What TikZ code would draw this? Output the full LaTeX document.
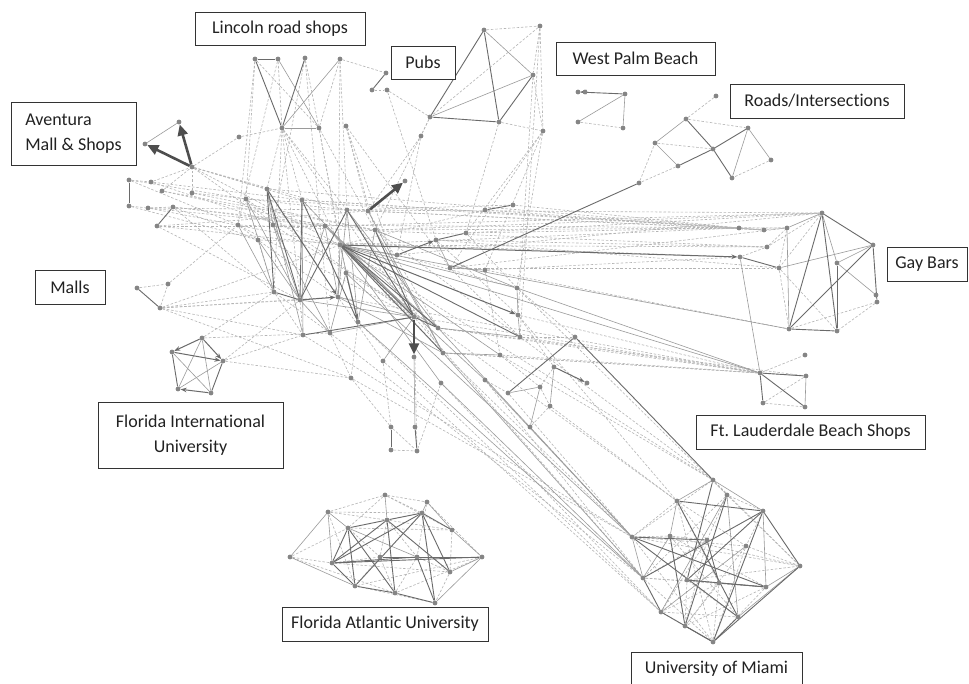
\documentclass[tikz,border=0pt]{standalone}
\usepackage{fontspec}
\setmainfont{Carlito}[Ligatures=CommonOff]
\usetikzlibrary{arrows.meta}
\pgfdeclarelayer{back}
\pgfdeclarelayer{bg}
\pgfsetlayers{back,bg,main}
\definecolor{dotc}{HTML}{858585}
\definecolor{edk}{HTML}{6A6A6A}
\definecolor{emd}{HTML}{9A9A9A}
\definecolor{eds}{HTML}{B4B4B4}
\definecolor{thk}{HTML}{4E4E4E}
\definecolor{txt}{HTML}{222222}
\tikzset{
  dot/.style={circle,fill=dotc,inner sep=0pt,minimum size=4.8pt},
  sD/.style={draw=edk,line width=0.9pt},
  sM/.style={draw=emd,line width=0.6pt},
  dsh/.style={draw=eds,line width=0.6pt,dash pattern=on 2.5pt off 1.8pt},
  tA/.style={draw=thk,line width=2.6pt,-{Triangle[length=11pt,width=10pt]}},
  mA/.style={draw=edk,line width=1pt,-{Stealth[length=6pt,width=4.5pt]}},
  lbl/.style={draw=black!80,line width=0.8pt,fill=white,rectangle,inner sep=0pt,text=txt,font=\fontsize{18}{25}\selectfont}
}
\begin{document}
\begin{tikzpicture}[x=1pt,y=-1pt]
\useasboundingbox (0,0) rectangle (969,684);
\begin{pgfonlayer}{back}
\fill[white] (0,0) rectangle (969,684);
\end{pgfonlayer}
% ---------------- nodes ----------------
\foreach \n/\x/\y in {
 l1/255/59, l2/278/59, l3/305/58, l4/340/59, l5/282/128, l6/319/128, l7/346/126,
 q1/386/73, q2/372/90, q3/387/90,
 p4/430/117, p5/421/136, p6/484/30, p7/533/75, p8/499/122, p9/543/131, p10/540/26,
 w1/578/92, w2/585/92, w3/625/94, w4/578/122, w5/623/128,
 r1/716/96, r2/686/119, r3/748/128, r4/655/143, r5/713/149, r6/678/166, r7/771/160, r8/732/178, r9/639/183,
 g1/822/213, g2/873/245, g3/739/228, g4/764/230, g5/787/228, g6/767/247, g7/740/257, g8/779/268, g9/837/263, g10/876/295, g11/877/302, g12/789/329, g13/837/331,
 f1/760/373, f2/806/376, f3/763/403, f4/805/407, f5/805/355,
 u1/713/480, u2/727/495, u3/677/501, u4/763/511, u5/632/537, u6/670/536, u7/707/540, u8/746/546, u9/800/566, u10/643/578, u11/687/580, u12/719/583, u13/766/587, u14/661/612, u15/738/617, u16/685/626, u17/713/642,
 a1/385/495, a2/427/502, a3/328/512, a4/348/528, a5/387/520, a6/422/513, a7/452/530, a8/290/557, a9/332/563, a10/380/557, a11/417/557, a12/450/572, a13/482/557, a15/355/586, a16/395/593, a17/435/603,
 i1/202/338, i2/172/352, i3/223/361, i4/178/389, i5/211/393,
 v1/179/122, v2/145/144, v3/192/167, v4/239/137, v5/129/180, v6/129/206, v7/151/182, v8/162/191, v9/192/193, v10/148/208, v11/173/207, v12/157/226,
 m1/137/288, m2/168/284, m3/160/308,
 c1/267/189, c2/246/199, c3/302/200, c4/238/225, c5/258/240, c10/273/225, c45/325/226, c6/347/210, c7/368/211, c8/405/181, c9/375/230, hub/340/245,
 c11/274/292, c12/300/300, c13/338/297, c14/346/273, c15/358/322, c16/414/317, c17/414/357, c18/303/335, c19/330/333, c20/383/361, c21/351/378,
 c22/438/328, c23/443/353, c24/441/383, c25/397/255, c26/436/240, c27/466/233, c28/485/210, c29/513/205, c30/450/268, c31/485/270,
 c32/517/288, c33/518/315, c34/520/337, c35/500/355, c36/485/380, c37/508/393, c38/575/337, c39/587/383, c40/554/367, c41/540/387, c42/550/406, c46/530/427,
 c43/415/427, c44/391/427, c47/391/450, c48/417/451}
 \node[dot] (\n) at (\x,\y) {};
% ---------------- edges ----------------
\begin{pgfonlayer}{bg}
% dashed
\foreach \a/\b in {
 l2/l5, l3/l6, l4/l6, l1/l6, l4/q1, q2/q3, q3/p4, p10/p4, p10/p7, p6/p10, p10/p9, p7/p9, p8/p9, p4/p5, w4/w5,
 r1/r2, r2/r3, r7/r8, r4/r5, r9/r4,
 g3/g4, g4/g5, g6/g7, g5/g8, g1/g8, g1/g6, g8/g13, g11/g13, g12/g11, g8/g12, g6/g5,
 f3/f4, f1/f5, f3/f2, v3/v4, v4/l5, m2/m3, m1/m2,
 v3/c1, v3/c3, v3/c6, v3/hub, v3/c10, v7/hub, v8/c9, v9/c6, v10/hub, v10/c45, v11/c45, v12/c7, v12/hub, v5/c4, v6/v10, v7/v3, v8/v3, v9/v3, v11/c5, v5/v7, v10/v11,
 v7/c3, v8/c45, v9/c9, v10/c6, v11/c9, v12/c45, v6/c5, v5/c2, v12/c12, v11/c11,
 m3/c11, m3/c12, m3/c18, m3/hub, m3/c21, m2/c4, i3/c12, i1/c11, i3/c18, i3/c21, i1/c19, m3/c13,
 l5/c1, l5/c3, l5/c6, l5/hub, l5/c12, l5/c11, l5/c16, l6/c9, l6/hub, l7/c7, l7/c9, l7/c16, l4/c6, l2/c4, l1/c4, l1/c2, l3/c10, l6/c14, l7/c30, l4/c13, l3/c19,
 p4/c9, p5/c7, p8/c27, p9/c27, p9/c30, p9/c31, p10/c34, p9/c32, p7/c33, r6/r9, c28/hub, c29/c6, p5/c25, q3/c26,
 c3/g3, c6/g4, c9/g5, c45/g1, hub/g6, c27/g3, c26/g8, c30/g5, c9/g1, c7/g4, c2/g3, c4/g6,
 c1/g3, c3/g4, c10/g5, hub/g3, c6/g1, c28/g4, c29/g3, c27/g1, c26/g6, c30/g8, c31/g12, c25/g1, c5/g7,
 c16/f1, c22/f2, c23/f1, c34/f1, c31/g7, c22/f1, c23/f2, c33/f1, c35/f1, c13/f1,
 c21/u5, c18/u5, c16/u10, c24/u14, c22/u3, c23/u5, c20/u14, c36/u10, c37/u5, c42/u3, c46/u5, c35/u1, hub/u1, c34/u1, c33/u3, c32/u2, c15/u14, c19/u10,
 c19/c21, c13/c20, c14/c22, c15/c21, c12/c18, c11/c18, c2/c16, c4/c16, c5/c13, c10/c22, c45/c23, c6/c23, c7/c22, c9/c34,
 c25/c32, c26/c33, c27/c32, c30/c34, c31/c35, c32/c38, c33/c40, c34/c38, c35/c41, c36/c37, c40/c41, c41/c42, c42/c46,
 c20/c44, c21/c44, c16/c48, c47/c48, c24/c48, c44/c48, c11/c19, c5/c11, c4/c5, c2/c10,
 u1/u5, u2/u4, u3/u5, u3/u7, u3/u8, u5/u9, u5/u8, u6/u9, u6/u13, u7/u10, u7/u14, u7/u16, u8/u9, u8/u16, u8/u17, u10/u12, u10/u17, u10/u13, u11/u9, u12/u14, u12/u16, u13/u16, u13/u17, u14/u15, u2/u10, u2/u9, u6/u15, u3/u17, u1/u9, u5/u17, u11/u15, u4/u8, u6/u7, u2/u7, u1/u2, u5/u6, u14/u16, u11/u16, u12/u17, u3/u12,
 a1/a2, a1/a3, a3/a5, a1/a6, a1/a7, a2/a13, a3/a15, a4/a10, a5/a10, a5/a11, a8/a9, a9/a10, a10/a11, a11/a12, a10/a16, a11/a16, a12/a17, a15/a17, a4/a7, a9/a12, a5/a7, a10/a15, a16/a13, a15/a13, a8/a4, a1/a4, a2/a11, a7/a12, a8/a16, a3/a6}
 \draw[dsh] (\a) -- (\b);
% solid medium
\foreach \a/\b in {
 l4/l5, l5/l6, l2/l6, p4/p7, p6/p7, w3/w5, w4/w3, r4/r2, r4/r6, r3/r7, r3/r8,
 g1/g9, g5/g12, g9/g10, g2/g9, g1/g5, g2/g8, f2/f4, v1/v2,
 c2/c12, c4/c11, c1/c10, c5/c12, hub/g12, hub/f1, c15/u10, c14/u5, c32/f1, g7/f1, c40/c42, c37/c41, c46/c41,
 c14/c19, c13/c16, c10/c19, c45/c12, c30/c31, c25/hub, c26/c30, c12/c19, c19/c16, c20/c16, c43/c17, c33/c34, c32/c33,
 c2/c11, c1/c18, c3/c18, c10/c12, c45/c13, c6/c13, c9/c15, c6/c15, hub/c15, hub/c13, c3/c16, c45/c16,
 hub/c32, hub/c35, hub/c36, c9/c32, c9/c23, c7/c23, c6/c22, c45/c22, hub/c24, c13/c23, c12/c16,
 c22/u5, c23/u10, c24/u10, c36/u5, c22/c34, c23/c35,
 a8/a3, a8/a15, a3/a9, i1/i4, i1/i5, i2/i5, i3/i4,
 u1/u3, u2/u14, u8/u14, u9/u13, u3/u6, u6/u10, u11/u12, u2/u15, u1/u4, u5/u10, u4/u13, u9/u15,
 a3/a4, a4/a11, a7/a13, a12/a13, a17/a13, a2/a6, a1/a5, a2/a7}
 \draw[sM] (\a) -- (\b);
% solid dark
\foreach \a/\b in {
 l1/l5, l3/l5, l1/l2, p4/p6, p6/p8, p8/p7, p4/p8, w1/w3, r2/r5, r6/r5, r5/r3, r5/r8,
 g1/g2, g2/g11, g1/g12, g12/g13, g13/g9, g1/g13, g2/g12, g7/g8, f1/f2, f1/f3, f1/f4,
 c38/u1, c38/c37, r9/c30, c28/c29, m1/m3, v5/v6, v12/v11, q1/q2,
 c1/c12, c3/c12, c6/c12, hub/c16, hub/c22, hub/c23, c9/c16, c11/c12, c18/c16, c27/c26, c16/c22, c3/c15, c44/c47, c48/c43,
 hub/c34, c6/c16, c1/c11,
 i2/i4, i3/i5,
 u1/u11, u5/u15, u4/u11, u4/u10, u4/u17, u3/u15, u6/u16, u11/u13, u9/u17, u5/u7, u12/u13, u7/u12, u4/u9, u3/u4, u14/u17, u10/u14, u16/u17, u15/u17, u2/u16, u5/u13,
 a9/a4, a9/a5, a9/a6, a4/a5, a5/a6, a6/a7, a9/a11, a9/a13, a5/a12, a6/a15, a4/a16, a6/a17, a10/a13, a15/a16, a16/a17, a11/a17, a9/a15, a4/a15, a6/a12, a5/a16}
 \draw[sD] (\a) -- (\b);
% arrows
\foreach \a/\b in {hub/g7, c12/c13, c14/c15, c1/c13, c25/c26, c40/c39, i1/i2, i2/i3, i1/i3, i5/i4, hub/c33, w2/w1}
 \draw[mA] (\a) -- (\b);
\foreach \a/\b in {v3/v1, v3/v2, c7/c8, c16/c17}
 \draw[tA] (\a) -- (\b);
\end{pgfonlayer}
% ---------------- labels ----------------
\node[lbl,minimum width=170pt,minimum height=33pt] (tlincoln) at (280,28.5) {Lincoln road shops};
\node[lbl,minimum width=64pt,minimum height=33pt] (tpubs) at (423,62.5) {Pubs};
\node[lbl,minimum width=125pt,minimum height=63pt,align=left] (taventura) at (73.5,133.5) {Aventura\\Mall \& Shops};
\node[lbl,minimum width=70pt,minimum height=34pt] (tmalls) at (70,287) {Malls};
\node[lbl,minimum width=159pt,minimum height=33pt] (twpb) at (635.5,58.5) {West Palm Beach};
\node[lbl,minimum width=174pt,minimum height=34pt] (troads) at (817,101) {Roads/Intersections};
\node[lbl,minimum width=80pt,minimum height=34pt] (tgay) at (927,264) {Gay Bars};
\node[lbl,minimum width=185pt,minimum height=66pt,align=center] (tfiu) at (190.5,435) {Florida International\\University};
\node[lbl,minimum width=206pt,minimum height=34pt] (tfau) at (385,624) {Florida Atlantic University};
\node[lbl,minimum width=229pt,minimum height=34pt] (tftl) at (810.5,432) {Ft.\ Lauderdale Beach Shops};
\node[lbl,minimum width=171pt,minimum height=34pt] (tum) at (716.5,669) {University of Miami};
\end{tikzpicture}
\end{document}
